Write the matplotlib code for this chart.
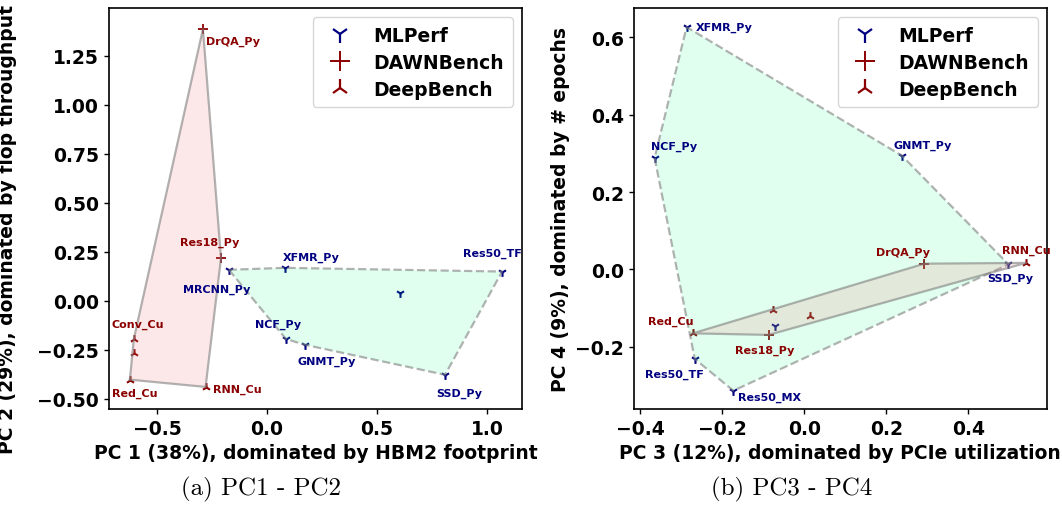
import matplotlib
matplotlib.use('Agg')
import matplotlib.pyplot as plt
import numpy as np
from matplotlib.lines import Line2D

# ---- data ----
mlperf_names = ['MRCNN_Py', 'XFMR_Py', 'Res50_TF', 'Res50_MX', 'NCF_Py', 'GNMT_Py', 'SSD_Py']
mlperf_pc1 = [-0.173, 0.082, 1.068, 0.605, 0.086, 0.173, 0.809]
mlperf_pc2 = [0.158, 0.168, 0.149, 0.042, -0.195, -0.225, -0.378]
mlperf_pc3 = [-0.071, -0.287, -0.267, -0.173, -0.365, 0.238, 0.498]
mlperf_pc4 = [-0.145, 0.626, -0.231, -0.313, 0.288, 0.294, 0.013]

dawn_names = ['DrQA_Py', 'Res18_Py']
dawn_pc1 = [-0.291, -0.209]
dawn_pc2 = [1.387, 0.218]
dawn_pc3 = [0.293, -0.087]
dawn_pc4 = [0.015, -0.169]

deep_names = ['Conv_Cu', 'GEMM_Cu', 'Red_Cu', 'RNN_Cu']
deep_pc1 = [-0.605, -0.603, -0.623, -0.279]
deep_pc2 = [-0.195, -0.268, -0.403, -0.440]
deep_pc3 = [-0.077, 0.015, -0.272, 0.541]
deep_pc4 = [-0.105, -0.119, -0.165, 0.017]

# which labels are shown in each panel, with text offsets in pixels (dx, dy, ha)
labels_a = {
    'DrQA_Py': (3, -12, 'left'), 'Res18_Py': (-11, 16, 'center'),
    'MRCNN_Py': (-12, -19, 'center'), 'XFMR_Py': (-2, 11, 'left'),
    'Res50_TF': (-10, 19, 'center'), 'NCF_Py': (-8, 15, 'center'),
    'GNMT_Py': (22, -16, 'center'), 'SSD_Py': (14, -18, 'center'),
    'Conv_Cu': (4, 15, 'center'), 'Red_Cu': (5, -13, 'center'),
    'RNN_Cu': (7, -2, 'left'),
}
labels_b = {
    'XFMR_Py': (9, 0, 'left'), 'NCF_Py': (-4, 12, 'left'),
    'GNMT_Py': (-8, 11, 'left'), 'SSD_Py': (2, -13, 'center'),
    'RNN_Cu': (0, 13, 'center'), 'DrQA_Py': (-21, 12, 'center'),
    'Red_Cu': (-22, 12, 'center'), 'Res18_Py': (-4, -15, 'center'),
    'Res50_TF': (-20, -15, 'center'), 'Res50_MX': (5, -6, 'left'),
}

BLUE = '#000080'
RED = '#8b0000'


def convex_hull(xs, ys):
    pts = sorted(set(zip(xs, ys)))

    def cross(o, a, b):
        return (a[0] - o[0]) * (b[1] - o[1]) - (a[1] - o[1]) * (b[0] - o[0])

    lower, upper = [], []
    for p in pts:
        while len(lower) >= 2 and cross(lower[-2], lower[-1], p) <= 0:
            lower.pop()
        lower.append(p)
    for p in reversed(pts):
        while len(upper) >= 2 and cross(upper[-2], upper[-1], p) <= 0:
            upper.pop()
        upper.append(p)
    hull = lower[:-1] + upper[:-1]
    return np.array(hull + [hull[0]])


def draw_panel(ax, mx, my, dx, dy, ex, ey, labels):
    ax.scatter(mx, my, marker='1', s=40, color=BLUE, linewidths=1.5, zorder=2)
    ax.scatter(dx, dy, marker='+', s=60, color=RED, linewidths=1.3, zorder=2)
    ax.scatter(ex, ey, marker='2', s=40, color=RED, linewidths=1.5, zorder=2)

    g = convex_hull(mx, my)
    ax.fill(g[:, 0], g[:, 1], color='springgreen', alpha=0.12, lw=0, zorder=3)
    ax.plot(g[:, 0], g[:, 1], '--', color='gray', alpha=0.6, lw=1.6, zorder=3)

    r = convex_hull(dx + ex, dy + ey)
    ax.fill(r[:, 0], r[:, 1], color='lightcoral', alpha=0.18, lw=0, zorder=3)
    ax.plot(r[:, 0], r[:, 1], '-', color='gray', alpha=0.6, lw=1.6, zorder=3)

    groups = [(mlperf_names, mx, my, BLUE), (dawn_names, dx, dy, RED),
              (deep_names, ex, ey, RED)]
    for names, xs, ys, c in groups:
        for n, x, y in zip(names, xs, ys):
            if n in labels:
                ox, oy, ha = labels[n]
                ax.annotate(n, (x, y), xytext=(ox, oy), textcoords='offset pixels',
                            ha=ha, va='center', fontsize=8, fontweight='bold',
                            color=c, zorder=4)

    handles = [
        Line2D([], [], ls='', marker='1', color=BLUE, ms=13, mew=1.6, label='MLPerf'),
        Line2D([], [], ls='', marker='+', color=RED, ms=15, mew=1.4, label='DAWNBench'),
        Line2D([], [], ls='', marker='2', color=RED, ms=13, mew=1.6, label='DeepBench'),
    ]
    ax.legend(handles=handles, loc='upper right', prop={'size': 13.5, 'weight': 'bold'},
              handletextpad=0.8, borderpad=0.45, labelspacing=0.42)
    for s in ax.spines.values():
        s.set_linewidth(1.2)
    ax.tick_params(labelsize=13.5, width=1.0)


fig = plt.figure(figsize=(10.62, 5.06), dpi=100)
ax1 = fig.add_axes([0.1026, 0.19, 0.389, 0.792])
ax2 = fig.add_axes([0.5967, 0.19, 0.3892, 0.792])

draw_panel(ax1, mlperf_pc1, mlperf_pc2, dawn_pc1, dawn_pc2, deep_pc1, deep_pc2, labels_a)
ax1.set_xlim(-0.718, 1.159)
ax1.set_ylim(-0.552, 1.494)
ax1.set_xticks([-0.5, 0.0, 0.5, 1.0])
ax1.set_yticks([-0.5, -0.25, 0.0, 0.25, 0.5, 0.75, 1.0, 1.25])
ax1.set_xlabel('PC 1 (38%), dominated by HBM2 footprint', fontsize=13.5, fontweight='bold')
ax1.set_ylabel('PC 2 (29%), dominated by flop throughput', fontsize=13.5, fontweight='bold')
ax1.yaxis.set_label_coords(-0.222, 0.449)

draw_panel(ax2, mlperf_pc3, mlperf_pc4, dawn_pc3, dawn_pc4, deep_pc3, deep_pc4, labels_b)
ax2.set_xlim(-0.416, 0.592)
ax2.set_ylim(-0.36, 0.675)
ax2.set_xticks([-0.4, -0.2, 0.0, 0.2, 0.4])
ax2.set_yticks([-0.2, 0.0, 0.2, 0.4, 0.6])
ax2.set_xlabel('PC 3 (12%), dominated by PCIe utilization', fontsize=13.5, fontweight='bold')
ax2.set_ylabel('PC 4 (9%), dominated by # epochs', fontsize=13.5, fontweight='bold')

for ax in (ax1, ax2):
    for t in ax.get_xticklabels() + ax.get_yticklabels():
        t.set_fontweight('bold')

fig.text(0.246, 0.032, '(a) PC1 - PC2', family='cmr10', fontsize=18, ha='center', va='center')
fig.text(0.745, 0.032, '(b) PC3 - PC4', family='cmr10', fontsize=18, ha='center', va='center')

fig.savefig('out.png', dpi=100)
